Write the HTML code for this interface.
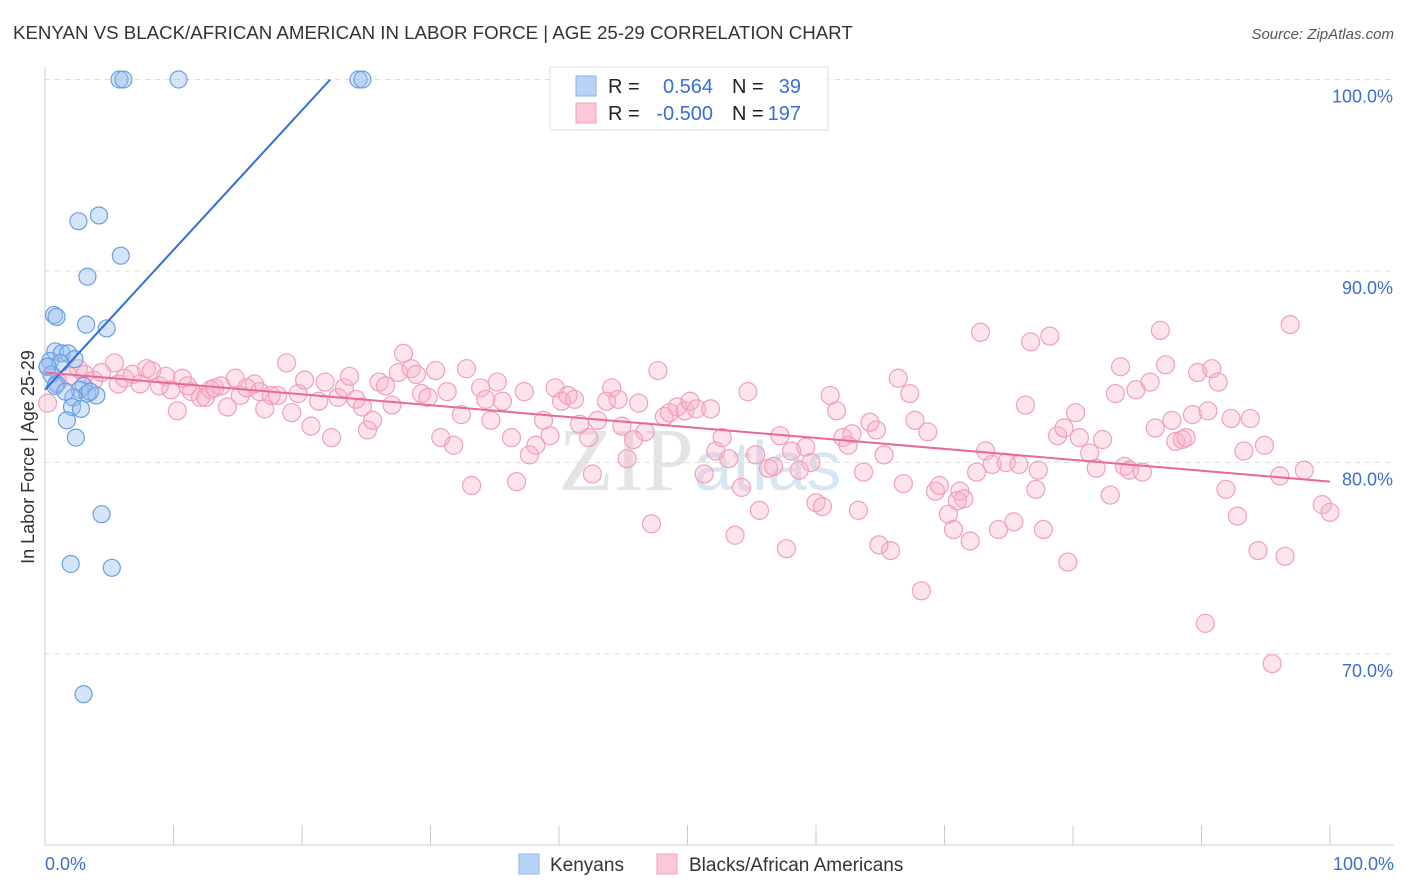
<!DOCTYPE html>
<html><head><meta charset="utf-8"><style>
body{margin:0;background:#fff;font-family:"Liberation Sans",sans-serif;}
svg{display:block}
</style></head><body>
<svg id="chart" width="1406" height="892">
<text x="13" y="39" font-size="18.7" fill="#333">KENYAN VS BLACK/AFRICAN AMERICAN IN LABOR FORCE | AGE 25-29 CORRELATION CHART</text>
<text x="1394" y="39" font-size="15" fill="#555" font-style="italic" text-anchor="end">Source: ZipAtlas.com</text>
<text x="700" y="490" font-size="90" fill="#e4e4e4" text-anchor="middle" font-family="Liberation Serif, serif">ZIP<tspan fill="#d8e6f4" font-family="Liberation Sans, sans-serif" font-size="70">atlas</tspan></text>
<g id="grid"></g>
<g id="axes"></g>
<g id="pts"></g>
<g id="trends"></g>
<text transform="translate(34,457) rotate(-90)" font-size="18" fill="#333" text-anchor="middle">In Labor Force | Age 25-29</text>
<g>
<rect x="550" y="67" width="278" height="63" fill="#fff" stroke="#ddd"/>
<rect x="576" y="76" width="20" height="20" fill="#b8d3f5" stroke="#8ab4ea"/>
<rect x="576" y="103" width="20" height="20" fill="#fac8d8" stroke="#f0a0bb"/>
<text x="608" y="93" font-size="20" fill="#222">R =</text><text x="713" y="93" font-size="20" fill="#3a6fd0" text-anchor="end">0.564</text>
<text x="732" y="93" font-size="20" fill="#222">N =</text><text x="801" y="93" font-size="20" fill="#3a6fd0" text-anchor="end">39</text>
<text x="608" y="120" font-size="20" fill="#222">R =</text><text x="713" y="120" font-size="20" fill="#3a6fd0" text-anchor="end">-0.500</text>
<text x="732" y="120" font-size="20" fill="#222">N =</text><text x="801" y="120" font-size="20" fill="#3a6fd0" text-anchor="end">197</text>
</g>
<g>
<rect x="519" y="854" width="20" height="20" fill="#b8d3f5" stroke="#8ab4ea"/>
<text x="550" y="871" font-size="19" fill="#333">Kenyans</text>
<rect x="657" y="854" width="20" height="20" fill="#fac8d8" stroke="#f0a0bb"/>
<text x="689" y="871" font-size="19" fill="#333">Blacks/African Americans</text>
</g>
</svg>
<script>
const blueX=[5.8,6.1,10.4,24.4,24.7,2.6,4.2,5.9,3.3,0.7,0.9,3.2,4.8,0.8,1.3,1.8,2.3,0.4,0.2,1.2,0.5,0.9,0.8,3.0,2.7,3.3,4.0,2.2,2.1,2.8,1.7,2.4,4.4,2.0,5.2,3.0,0.2,1.6,3.5];
const blueY=[100,100,100,100,100,92.6,92.9,90.8,89.7,87.7,87.6,87.2,87.0,85.8,85.7,85.7,85.4,85.3,85.0,85.2,84.6,84.1,84.0,84.0,83.8,83.6,83.5,83.4,82.9,82.8,82.2,81.3,77.3,74.7,74.5,67.9,85.0,83.7,83.7];
const pinkX=[0.2,1.0,1.9,2.6,3.1,3.8,4.4,5.4,5.7,6.2,6.8,7.4,7.9,8.3,8.9,9.4,9.8,10.3,10.7,11.1,11.4,12.1,12.5,12.9,13.2,13.7,14.2,14.8,15.2,15.7,16.3,16.7,17.1,17.6,18.1,18.8,19.2,19.7,20.2,20.7,21.3,21.8,22.3,22.8,23.3,23.7,24.2,24.7,25.1,25.5,26.0,26.5,27.0,27.5,27.9,28.5,28.9,29.3,29.8,30.4,30.8,31.3,31.8,32.4,32.8,33.2,33.9,34.3,34.7,35.2,35.6,36.3,36.7,37.3,37.7,38.2,38.8,39.3,39.7,40.2,40.7,41.2,41.6,42.3,42.6,43.0,43.7,44.1,44.6,44.9,45.3,45.8,46.2,46.7,47.2,47.7,48.2,48.6,49.2,49.8,50.2,50.7,51.3,51.8,52.2,52.7,53.2,53.7,54.2,54.7,55.3,55.6,56.3,56.7,57.2,57.7,58.1,58.7,59.2,59.6,60.0,60.5,61.1,61.6,62.1,62.5,62.8,63.3,63.7,64.2,64.7,65.3,65.8,66.4,66.8,67.3,67.7,68.2,68.7,69.3,69.6,70.3,70.7,71.2,71.5,72.0,72.5,72.8,73.2,73.7,74.2,74.8,75.4,75.8,76.3,76.7,77.1,77.7,78.2,78.8,79.3,79.6,80.2,80.5,81.3,81.8,82.3,82.9,83.3,84.0,84.4,84.9,85.4,86.0,86.4,86.8,87.2,87.7,88.0,88.5,88.8,89.3,89.7,90.3,90.8,91.3,91.9,92.3,92.8,93.3,93.8,94.4,94.9,95.5,96.1,96.5,96.9,98.0,99.4,100.0,90.5,83.7,77.3,71.0,64.9];
const pinkY=[83.1,84.2,84.5,84.9,84.6,84.3,84.7,85.2,84.1,84.4,84.6,84.1,84.9,84.8,84.0,84.5,83.8,82.7,84.4,84.0,83.7,83.4,83.4,83.8,83.9,84.0,82.9,84.4,83.5,83.9,84.1,83.7,82.8,83.5,83.5,85.2,82.6,83.6,84.3,81.9,83.2,84.2,81.3,83.4,83.9,84.5,83.3,82.9,81.7,82.2,84.2,84.0,83.0,84.7,85.7,84.9,84.6,83.6,83.4,84.8,81.3,83.7,80.9,82.5,84.9,78.8,83.9,83.3,82.2,84.2,83.2,81.3,79.0,83.7,80.4,80.9,82.2,81.4,83.9,83.2,83.5,83.3,82.0,81.3,79.4,82.2,83.2,83.9,83.3,81.9,80.2,81.2,83.1,81.6,76.8,84.8,82.4,82.6,82.9,82.7,83.2,82.8,79.4,82.8,80.6,81.3,80.2,76.2,78.7,83.7,80.4,77.5,79.7,79.8,81.4,75.5,80.6,79.6,80.8,80.0,77.9,77.7,83.5,82.7,81.3,80.9,81.5,77.5,79.5,82.1,81.7,80.4,75.4,84.4,78.9,83.6,82.2,73.3,81.6,78.5,78.8,77.3,76.5,78.5,78.1,75.9,79.5,86.8,80.6,79.9,76.5,80.0,76.9,79.9,83.0,86.3,78.6,76.5,86.6,81.4,81.8,74.8,82.6,81.3,80.5,79.7,81.2,78.3,83.6,79.8,79.6,83.8,79.5,84.2,81.8,86.9,85.1,82.2,81.1,81.2,81.3,82.5,84.7,71.6,84.9,84.2,78.6,82.3,77.2,80.6,82.3,75.4,80.9,69.5,79.3,75.1,87.2,79.6,77.8,77.4,82.7,85.0,79.6,78.0,75.7];
const blueTrend=[0,83.8,22.2,100];
const pinkTrend=[0,84.7,100,79.0];
const yTicks=[100,90,80,70];
const yTickLabels=["100.0%","90.0%","80.0%","70.0%"];
const xTickLabels=["0.0%","100.0%"];

const NS="http://www.w3.org/2000/svg";
const sx=v=>45+v*12.85;
const sy=v=>79.5+(100-v)*19.15;
function mk(t,attrs,parent){const e=document.createElementNS(NS,t);for(const k in attrs)e.setAttribute(k,attrs[k]);parent.appendChild(e);return e;}
const grid=document.getElementById('grid'),axes=document.getElementById('axes'),pts=document.getElementById('pts'),tr=document.getElementById('trends');
yTicks.forEach((v,i)=>{
  const l=mk('line',{x1:45,x2:1394,y1:sy(v),y2:sy(v),stroke:'#ddd','stroke-dasharray':'5,5'},grid);
  
  
  const t=mk('text',{x:1393,y:sy(v)+23,'font-size':18,fill:'#3a6fd0','text-anchor':'end'},axes);
  t.textContent=yTickLabels[i];
  
  
});
const ax=mk('line',{x1:45,x2:45,y1:67,y2:845,stroke:'#ccc'},axes);


const bx=mk('line',{x1:45,x2:1394,y1:845,y2:845,stroke:'#ccc'},axes);


for(let i=0;i<=10;i++){
  const tk=mk('line',{x1:sx(i*10),x2:sx(i*10),y1:825,y2:845,stroke:'#ccc'},axes);
  
  
}
[[0,'start',45],[100,'end',1394]].forEach((d,i)=>{
  const t=mk('text',{x:d[2],y:870,'font-size':18,fill:'#3a6fd0','text-anchor':d[1]},axes);
  t.textContent=xTickLabels[i];
  
  
});
pinkX.forEach((x,i)=>{
  const c=mk('circle',{cx:sx(x),cy:sy(pinkY[i]),r:9,fill:'rgba(247,175,200,0.35)',stroke:'#f0a0bb','stroke-width':1.2},pts);
  
  
});
blueX.forEach((x,i)=>{
  const c=mk('circle',{cx:sx(x),cy:sy(blueY[i]),r:8.5,fill:'rgba(150,190,240,0.4)',stroke:'#6a9ee0','stroke-width':1.2},pts);
  
  
});
const bl=mk('line',{x1:sx(blueTrend[0]),y1:sy(blueTrend[1]),x2:sx(blueTrend[2]),y2:sy(blueTrend[3]),stroke:'#2f6fd6','stroke-width':2},tr);


const pl=mk('line',{x1:sx(pinkTrend[0]),y1:sy(pinkTrend[1]),x2:sx(pinkTrend[2]),y2:sy(pinkTrend[3]),stroke:'#e8689a','stroke-width':2},tr);


</script>
</body></html>
